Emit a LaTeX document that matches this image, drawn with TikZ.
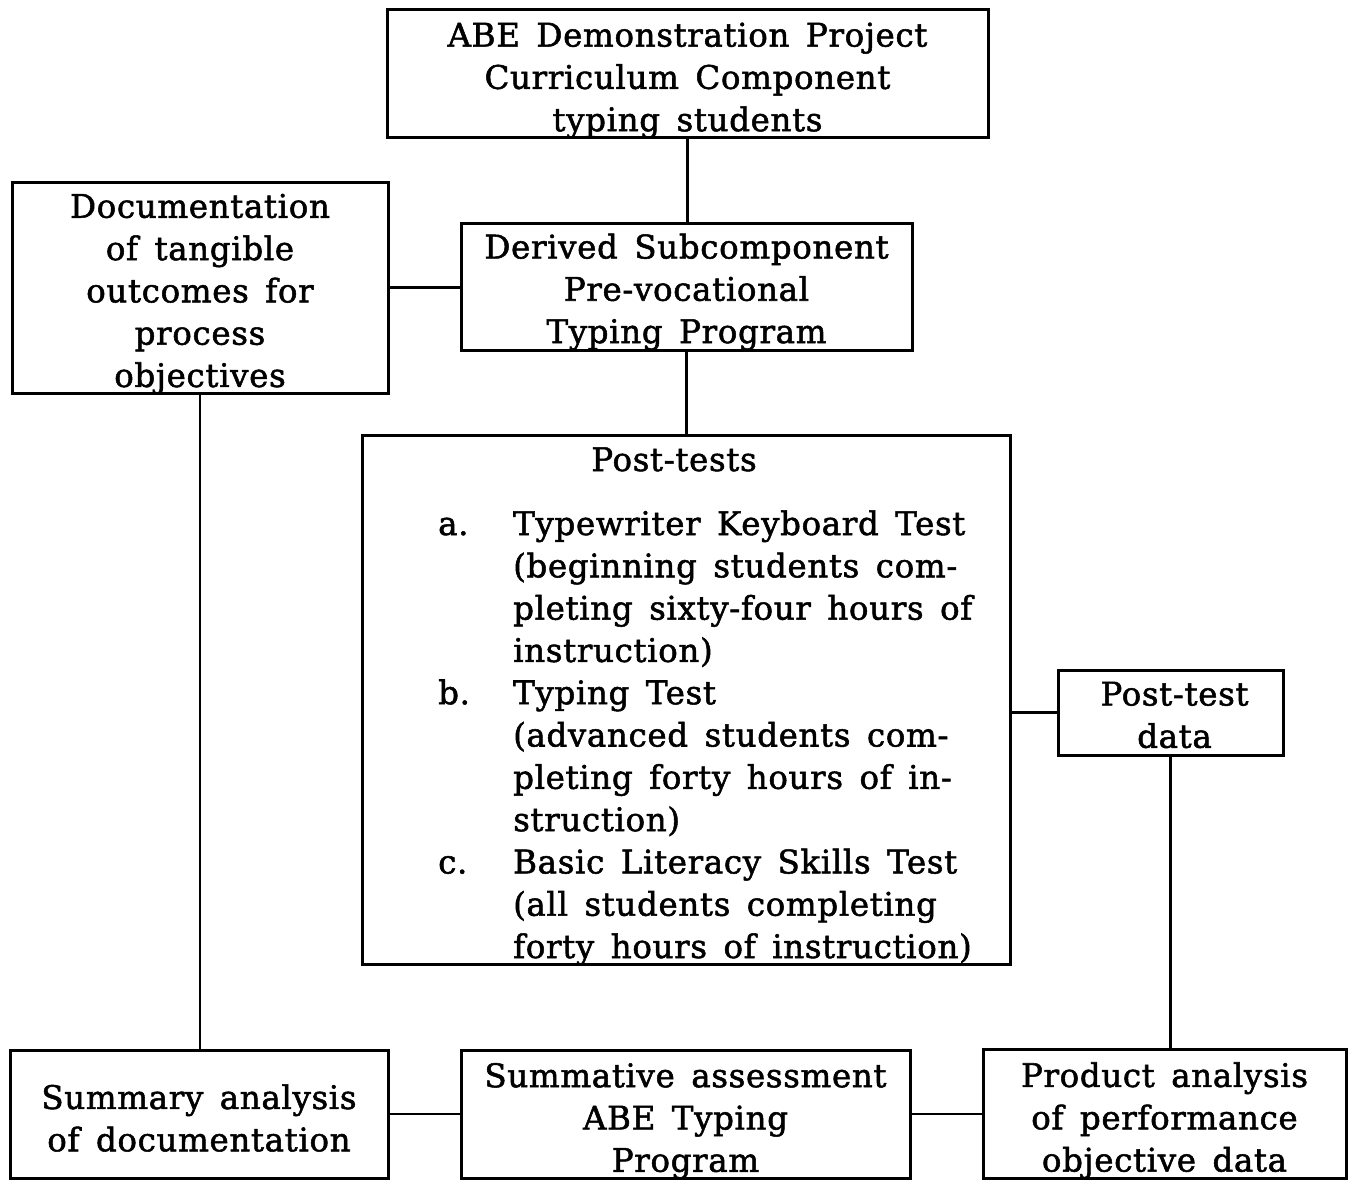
\documentclass[tikz,border=0pt]{standalone}
\usepackage{fontspec}
\setmainfont{DejaVu Serif}[WordSpace=1.5, LetterSpace=2, FakeBold=1.6]
\newcommand\boxfont{\fontsize{32.5}{42.3}\selectfont}
\tikzset{
  box/.style={draw, line width=3pt, inner sep=0pt},
  txt/.style={inner sep=0pt, font=\boxfont},
  ctxt/.style={txt, align=center},
  link/.style={line width=2.4pt}
}
\begin{document}
\begin{tikzpicture}[x=1pt,y=-1pt]
\useasboundingbox (0,0) rectangle (1351,1180);

% box outlines
\node[box, minimum width=601, minimum height=127] (top)  at (687.5,73.5) {};
\node[box, minimum width=376, minimum height=211] (doc)  at (200,287.5) {};
\node[box, minimum width=451, minimum height=127] (der)  at (686.5,286.5) {};
\node[box, minimum width=648, minimum height=529] (pt)   at (686,699.5) {};
\node[box, minimum width=225, minimum height=85]  (data) at (1170.5,712.5) {};
\node[box, minimum width=378, minimum height=128] (sum)  at (199,1114) {};
\node[box, minimum width=449, minimum height=128] (smt)  at (685.5,1114) {};
\node[box, minimum width=363, minimum height=129] (prod) at (1164.5,1113.5) {};

% box texts, set a little below the box centres
\node[ctxt] (topT)  at ([yshift=-7pt]top.center)
  {ABE Demonstration Project\\Curriculum Component\\typing students};
\node[ctxt] (docT)  at ([yshift=-6.5pt]doc.center)
  {Documentation\\of tangible\\outcomes for\\process\\objectives};
\node[ctxt] (derT)  at ([yshift=-5.5pt]der.center)
  {Derived Subcomponent\\Pre-vocational\\Typing Program};
\node[ctxt] (dataT) at ([xshift=4pt,yshift=-2.5pt]data.center) {Post-test\\data};
\node[ctxt] (sumT)  at ([yshift=-4pt]sum.center) {Summary analysis\\of documentation};
\node[ctxt] (smtT)  at ([yshift=-7pt]smt.center)
  {Summative assessment\\ABE Typing\\Program};
\node[ctxt] (prodT) at ([yshift=-7pt]prod.center)
  {Product analysis\\of performance\\objective data};

% contents of the post-test box
\node[txt, anchor=base] (pttitle) at (674,471) {Post-tests};
\node[txt, anchor=base west] (ptlist) at (438,535) {%
  \begin{tabular}[t]{@{}p{75pt}@{}l@{}}
  a. & Typewriter Keyboard Test\\
     & (beginning students com-\\
     & pleting sixty-four hours of\\
     & instruction)\\
  b. & Typing Test\\
     & (advanced students com-\\
     & pleting forty hours of in-\\
     & struction)\\
  c. & Basic Literacy Skills Test\\
     & (all students completing\\
     & forty hours of instruction)
  \end{tabular}};

% connectors
\draw[link] (top.south) -- (top.south |- der.north);
\draw[link] (doc.east) -- (doc.east -| der.west);
\draw[link] (der.south) -- (der.south |- pt.north);
\draw[link] (data.west -| pt.east) -- (data.west);
\draw[link] (data.south) -- (data.south |- prod.north);
\draw[link] (doc.south) -- (doc.south |- sum.north);
\draw[link] (sum.east) -- (sum.east -| smt.west);
\draw[link] (smt.east) -- (smt.east -| prod.west);
\end{tikzpicture}
\end{document}
